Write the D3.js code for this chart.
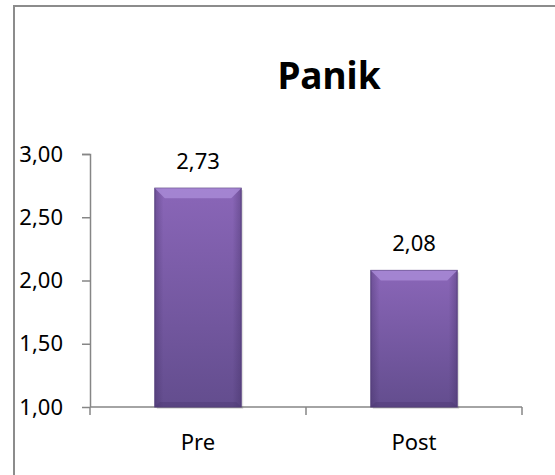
<!DOCTYPE html>
<html>
<head>
<meta charset="utf-8">
<script src="https://cdn.jsdelivr.net/npm/d3@7"></script>
<style>
  body { margin: 0; background: #fff; }
  svg { display: block; font-family: "Noto Sans", "Open Sans", sans-serif; }
</style>
</head>
<body>
<div id="chart"></div>
<script>
const chartTitle = "Panik";
const categories = ["Pre", "Post"];
const values = [2.73, 2.08];
const yTicks = [1.00, 1.50, 2.00, 2.50, 3.00];

const width = 555, height = 475;
const margin = { top: 154, right: 33, bottom: 68, left: 90 };
const plotW = width - margin.left - margin.right;
const plotH = height - margin.top - margin.bottom;

const svg = d3.select("#chart").append("svg")
  .attr("width", width)
  .attr("height", height);

// gradient for the bars
const defs = svg.append("defs");
const grad = defs.append("linearGradient")
  .attr("id", "barGrad")
  .attr("x1", 0).attr("y1", 0).attr("x2", 0).attr("y2", 1);
grad.append("stop").attr("offset", "0%").attr("stop-color", "#8a66b8");
grad.append("stop").attr("offset", "100%").attr("stop-color", "#634d8e");

const sideGrad = defs.append("linearGradient")
  .attr("id", "sideGrad")
  .attr("x1", 0).attr("y1", 0).attr("x2", 1).attr("y2", 0);
sideGrad.append("stop").attr("offset", "0%").attr("stop-color", "#3d2a5e").attr("stop-opacity", 0.35);
sideGrad.append("stop").attr("offset", "10%").attr("stop-color", "#3d2a5e").attr("stop-opacity", 0);
sideGrad.append("stop").attr("offset", "90%").attr("stop-color", "#3d2a5e").attr("stop-opacity", 0);
sideGrad.append("stop").attr("offset", "100%").attr("stop-color", "#3d2a5e").attr("stop-opacity", 0.35);

// outer border (runs off the right and bottom edge)
svg.append("rect")
  .attr("x", 14).attr("y", 6)
  .attr("width", 600).attr("height", 600)
  .attr("fill", "none")
  .attr("stroke", "#8c8c8c")
  .attr("stroke-width", 2);

svg.append("text")
  .attr("x", 329)
  .attr("y", 89)
  .attr("text-anchor", "middle")
  .attr("font-size", 37)
  .attr("font-weight", "bold")
  .attr("fill", "#000")
  .text(chartTitle);

const g = svg.append("g")
  .attr("transform", `translate(${margin.left},${margin.top})`);

const x = d3.scaleBand()
  .domain(categories)
  .range([0, plotW])
  .padding(0);

const y = d3.scaleLinear()
  .domain([1, 3])
  .range([plotH, 0]);

const fmt = v => d3.format(".2f")(v).replace(".", ",");

// y axis
const yAxis = g.append("g")
  .call(d3.axisLeft(y).tickValues(yTicks).tickSize(8).tickPadding(19).tickFormat(fmt));
yAxis.select(".domain").attr("stroke", "#868686").attr("stroke-width", 1.5)
  .attr("d", `M-8,0.5H0.5V${plotH}`);
yAxis.selectAll(".tick line").attr("stroke", "#868686").attr("stroke-width", 1.5);
yAxis.selectAll(".tick text").attr("font-size", 22).attr("fill", "#000")
  .attr("font-family", "Noto Sans, sans-serif");

// x axis
const xAxis = g.append("g")
  .attr("transform", `translate(0,${plotH})`)
  .call(d3.axisBottom(x).tickSize(0).tickPadding(27));
xAxis.select(".domain").attr("stroke", "#868686").attr("stroke-width", 1.5)
  .attr("d", `M0,0H${plotW}`);
xAxis.selectAll(".tick text").attr("font-size", 22).attr("fill", "#000")
  .attr("font-family", "Noto Sans, sans-serif");

// category boundary ticks
const bounds = [0].concat(categories.map(c => x(c) + x.bandwidth()));
xAxis.selectAll(".bound")
  .data(bounds)
  .enter().append("line")
  .attr("class", "bound")
  .attr("x1", d => d).attr("x2", d => d)
  .attr("y1", 0).attr("y2", 8)
  .attr("stroke", "#868686")
  .attr("stroke-width", 1.5);

const data = categories.map((c, i) => ({ cat: c, val: values[i] }));
const barW = x.bandwidth() * 0.4;
const bev = 10;

const bars = g.selectAll(".bar")
  .data(data)
  .enter().append("g")
  .attr("class", "bar");

bars.append("rect")
  .attr("x", d => x(d.cat) + (x.bandwidth() - barW) / 2 + 2)
  .attr("y", d => y(d.val) + 2)
  .attr("width", barW)
  .attr("height", d => plotH - y(d.val))
  .attr("fill", "#000")
  .attr("opacity", 0.12);

bars.append("rect")
  .attr("x", d => x(d.cat) + (x.bandwidth() - barW) / 2)
  .attr("y", d => y(d.val))
  .attr("width", barW)
  .attr("height", d => plotH - y(d.val))
  .attr("fill", "url(#barGrad)")
  .attr("stroke", "#5a4482")
  .attr("stroke-width", 1);

bars.append("rect")
  .attr("x", d => x(d.cat) + (x.bandwidth() - barW) / 2)
  .attr("y", d => y(d.val))
  .attr("width", barW)
  .attr("height", d => plotH - y(d.val))
  .attr("fill", "url(#sideGrad)");

// top bevel
bars.append("path")
  .attr("d", d => {
    const x0 = x(d.cat) + (x.bandwidth() - barW) / 2;
    const x1 = x0 + barW;
    const y0 = y(d.val);
    return `M${x0},${y0}H${x1}L${x1 - bev},${y0 + bev}H${x0 + bev}Z`;
  })
  .attr("fill", "#a88ad6")
  .attr("opacity", 0.85);

// bottom bevel
bars.append("path")
  .attr("d", d => {
    const x0 = x(d.cat) + (x.bandwidth() - barW) / 2;
    const x1 = x0 + barW;
    const y1 = plotH;
    return `M${x0},${y1}H${x1}L${x1 - 5},${y1 - 5}H${x0 + 5}Z`;
  })
  .attr("fill", "#4a3670")
  .attr("opacity", 0.4);

bars.append("text")
  .attr("x", d => x(d.cat) + x.bandwidth() / 2)
  .attr("y", d => y(d.val) - 19)
  .attr("text-anchor", "middle")
  .attr("font-size", 22)
  .attr("fill", "#000")
  .text(d => fmt(d.val));
</script>
</body>
</html>
